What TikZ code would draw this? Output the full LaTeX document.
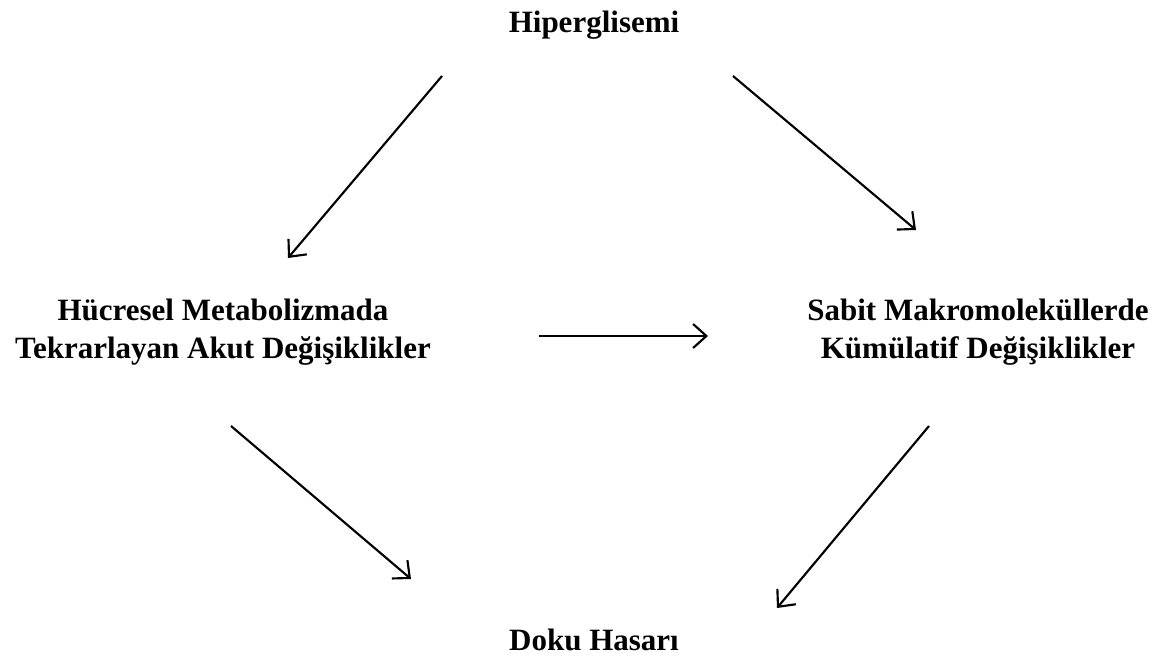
\documentclass[tikz,border=0pt]{standalone}
\usepackage{fontspec}
\setmainfont{Liberation Serif}
\usetikzlibrary{arrows.meta,positioning}

\begin{document}
\begin{tikzpicture}[
    x=0.75pt,
    y=-0.75pt,
    >={Straight Barb[length=10pt,width=18pt]},
    Lbl/.style={
        font=\fontsize{23.25pt}{28.5pt}\selectfont\bfseries,
        align=center,
        anchor=base,
        inner sep=0pt
    },
    Arr/.style={
        ->,
        line width=1.6pt
    }
    ]
    \useasboundingbox (0,0) rectangle (1157,656);
    \node[Lbl] (hiper) at (594,33) {Hiperglisemi};
    \node[Lbl] (hucre) at (223,358) {Hücresel Metabolizmada\\Tekrarlayan Akut Değişiklikler};
    \node[Lbl] (sabit) at (978,358) {Sabit Makromoleküllerde\\Kümülatif Değişiklikler};
    \node[Lbl] (doku) at (594,650) {Doku Hasarı};

    % arrow ends
    \coordinate (hiperL) at (442,76);
    \coordinate (hucreT) at (288,258);
    \coordinate (hiperR) at (733,76);
    \coordinate (sabitT) at (916,230);
    \coordinate (hucreR) at (539,336);
    \coordinate (sabitL) at (708,336);
    \coordinate (hucreB) at (231,426);
    \coordinate (dokuL) at (411,579);
    \coordinate (sabitB) at (929,426);
    \coordinate (dokuR) at (777,608);

    \draw[Arr] (hiperL) -- (hucreT);
    \draw[Arr] (hiperR) -- (sabitT);
    \draw[Arr] (hucreR) -- (sabitL);
    \draw[Arr] (hucreB) -- (dokuL);
    \draw[Arr] (sabitB) -- (dokuR);
\end{tikzpicture}
\end{document}
